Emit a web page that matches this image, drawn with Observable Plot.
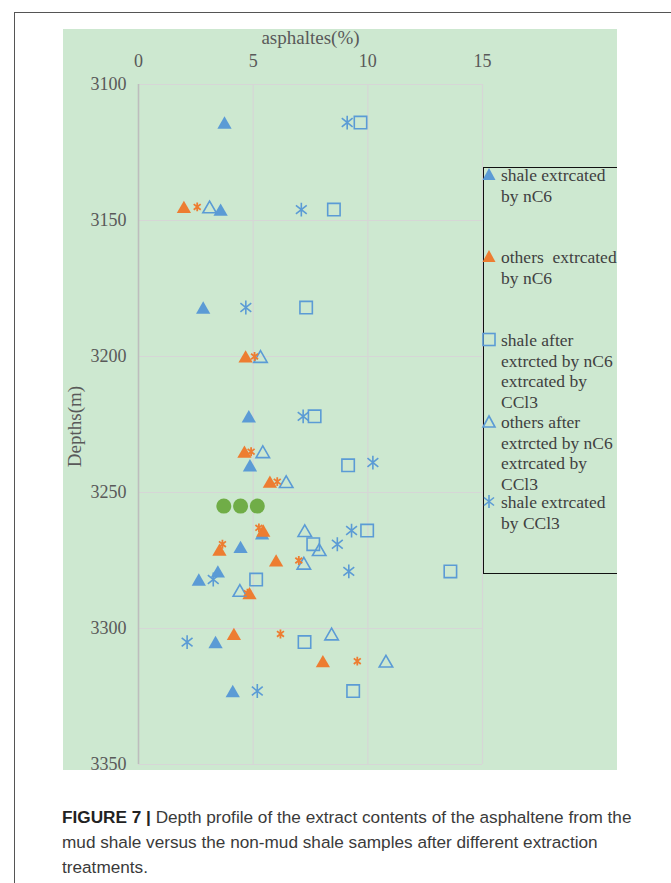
<!DOCTYPE html>
<html>
<head>
<meta charset="utf-8">
<script src="https://cdn.jsdelivr.net/npm/d3@7"></script>
<script src="https://cdn.jsdelivr.net/npm/@observablehq/plot@0.6"></script>
<style>
  html, body { margin: 0; padding: 0; background: #fff; width: 671px; height: 883px; overflow: hidden; }
  #page { position: relative; width: 671px; height: 883px; }
  #border { position: absolute; left: 14px; top: 12px; right: -2px; bottom: -2px; border-top: 1.5px solid #555; border-left: 1.5px solid #555; }
  #chart { position: absolute; left: 63px; top: 29px; }
  #legendBox { position: absolute; left: 483px; top: 167px; width: 134px; height: 407px; border: 1.5px solid #111; border-right: none; box-sizing: border-box; }
  .entry { position: absolute; left: 483px; font-family: "Liberation Serif", serif; font-size: 17.5px; line-height: 20.5px; color: #404040; white-space: pre; }
  .entry svg { position: absolute; left: -1px; top: 2px; overflow: visible; }
  .entry span { position: absolute; left: 18px; top: 0; }
  #caption { position: absolute; left: 62px; top: 805px; width: 600px; font-family: "Liberation Sans", Arial, sans-serif; font-size: 17.2px; line-height: 25px; color: #3a3a3a; }
  #caption div { white-space: nowrap; height: 25px; }
  #caption b { font-weight: bold; color: #222; }
</style>
</head>
<body>
<div id="page">
  <div id="border"></div>
  <div id="chart"></div>
  <div id="legendBox"></div>
  <div id="legend"></div>
  <div id="caption">
    <div><b>FIGURE 7 |</b><span> Depth profile of the extract contents of the asphaltene from the</span></div>
    <div>mud shale versus the non-mud shale samples after different extraction</div>
    <div>treatments.</div>
  </div>
</div>
<script>
// ---- data ----
const shaleNC6Depth = [3114, 3146, 3182, 3222, 3240, 3265, 3270, 3279, 3282, 3305, 3323];
const shaleNC6Value = [3.75, 3.58, 2.82, 4.81, 4.86, 5.39, 4.45, 3.46, 2.63, 3.36, 4.11];

const othersNC6Depth = [3145, 3200, 3235, 3246, 3264, 3271, 3275, 3287, 3302, 3312];
const othersNC6Value = [1.98, 4.67, 4.62, 5.73, 5.44, 3.53, 6.00, 4.84, 4.16, 8.04];

const shaleAfterDepth = [3114, 3146, 3182, 3222, 3240, 3264, 3269, 3279, 3282, 3305, 3323];
const shaleAfterValue = [9.68, 8.52, 7.31, 7.68, 9.14, 9.97, 7.62, 13.6, 5.13, 7.24, 9.36];

const othersAfterDepth = [3145, 3200, 3235, 3246, 3264, 3271, 3276, 3286, 3302, 3312];
const othersAfterValue = [3.10, 5.32, 5.42, 6.44, 7.25, 7.88, 7.21, 4.42, 8.42, 10.79];

const shaleCCl3Depth = [3114, 3146, 3182, 3222, 3239, 3264, 3269, 3279, 3282, 3305, 3323];
const shaleCCl3Value = [9.10, 7.10, 4.68, 7.18, 10.22, 9.29, 8.67, 9.17, 3.26, 2.12, 5.18];

const othersCCl3Depth = [3145, 3200, 3235, 3246, 3263, 3269, 3275, 3287, 3302, 3312];
const othersCCl3Value = [2.56, 5.06, 4.91, 6.05, 5.25, 3.66, 6.99, 4.75, 6.19, 9.54];

const extraDepth = [3255, 3255, 3255];
const extraValue = [3.72, 4.45, 5.18];

const xTicks = [0, 5, 10, 15];
const yTicks = [3100, 3150, 3200, 3250, 3300, 3350];

const legendItems = [
  {lines: ["shale extrcated", "by nC6"], sym: "triangleFilledBlue", top: 165},
  {lines: ["others  extrcated", "by nC6"], sym: "triangleFilledOrange", top: 247},
  {lines: ["shale after", "extrcted by nC6", "extrcated by", "CCl3"], sym: "square", top: 330},
  {lines: ["others after", "extrcted by nC6", "extrcated by", "CCl3"], sym: "triangleOpen", top: 412},
  {lines: ["shale extrcated", "by CCl3"], sym: "asterisk", top: 492}
];

const BLUE = "#5b9bd5", ORANGE = "#ed7d31", GREEN = "#70ad47";

// Excel-like star marker: vertical bar plus an X
const excelStar = {
  draw(context, size) {
    const r = Math.sqrt(size) * 0.56;
    const d = r * 0.78;
    context.moveTo(0, -r); context.lineTo(0, r);
    context.moveTo(-d, -d * 0.8); context.lineTo(d, d * 0.8);
    context.moveTo(-d, d * 0.8); context.lineTo(d, -d * 0.8);
  }
};

const rows = (d, v) => d.map((depth, i) => ({depth, value: v[i]}));

const chart = Plot.plot({
  width: 554,
  height: 741,
  marginLeft: 75,
  marginRight: 135,
  marginTop: 55,
  marginBottom: 6,
  style: {background: "#cde8d0", fontFamily: "Liberation Serif, serif", fontSize: "18px", color: "#595959", overflow: "visible"},
  x: {domain: [0, 15]},
  y: {domain: [3100, 3350], reverse: true},
  marks: [
    Plot.gridX(xTicks.slice(1), {stroke: "#d6d6d6", strokeOpacity: 1, strokeWidth: 1.2}),
    Plot.gridY(yTicks, {stroke: "#d6d6d6", strokeOpacity: 1, strokeWidth: 1.2}),
    Plot.ruleX([0], {stroke: "#bdbdbd", strokeWidth: 1.6}),
    Plot.axisX({anchor: "top", ticks: xTicks, tickSize: 0, tickPadding: 18, label: null, fontSize: 18}),
    Plot.axisY({anchor: "left", ticks: yTicks, tickFormat: d => String(d), tickSize: 0, tickPadding: 12, label: null, fontSize: 18}),
    Plot.text(["asphaltes(%)"], {frameAnchor: "top", lineAnchor: "middle", dy: -47, fontSize: 19, fill: "#595959"}),
    Plot.text(["Depths(m)"], {frameAnchor: "left", textAnchor: "middle", lineAnchor: "middle", dx: -64, dy: 2, rotate: -90, fontSize: 19, fill: "#595959"}),
    Plot.dot(rows(shaleNC6Depth, shaleNC6Value), {x: "value", y: "depth", symbol: "triangle", r: 5.3, fill: BLUE, dy: 2}),
    Plot.dot(rows(othersNC6Depth, othersNC6Value), {x: "value", y: "depth", symbol: "triangle", r: 5.3, fill: ORANGE, dy: 2}),
    Plot.dot(rows(shaleAfterDepth, shaleAfterValue), {x: "value", y: "depth", symbol: "square", r: 7.0, fill: "none", stroke: BLUE, strokeWidth: 1.6}),
    Plot.dot(rows(othersAfterDepth, othersAfterValue), {x: "value", y: "depth", symbol: "triangle", r: 5.0, fill: "none", stroke: BLUE, strokeWidth: 1.6, dy: 2}),
    Plot.dot(rows(shaleCCl3Depth, shaleCCl3Value), {x: "value", y: "depth", symbol: excelStar, r: 7, stroke: BLUE, strokeWidth: 1.6}),
    Plot.dot(rows(othersCCl3Depth, othersCCl3Value), {x: "value", y: "depth", symbol: excelStar, r: 4.5, stroke: ORANGE, strokeWidth: 1.8}),
    Plot.dot(rows(extraDepth, extraValue), {x: "value", y: "depth", symbol: "circle", r: 7.5, fill: GREEN})
  ]
});
document.getElementById("chart").appendChild(chart);

// legend (HTML overlay)
const symSvg = {
  triangleFilledBlue: `<polygon points="7,1 13.5,13 0.5,13" fill="${BLUE}"/>`,
  triangleFilledOrange: `<polygon points="7,1 13.5,13 0.5,13" fill="${ORANGE}"/>`,
  square: `<rect x="1" y="1.5" width="12" height="12" fill="none" stroke="${BLUE}" stroke-width="1.6"/>`,
  triangleOpen: `<polygon points="7,2 13,13 1,13" fill="none" stroke="${BLUE}" stroke-width="1.6"/>`,
  asterisk: `<g stroke="${BLUE}" stroke-width="1.6"><line x1="7" y1="1" x2="7" y2="14"/><line x1="2" y1="3.5" x2="12" y2="11.5"/><line x1="2" y1="11.5" x2="12" y2="3.5"/></g>`
};
const legendEl = document.getElementById("legend");
legendItems.forEach(item => {
  const div = document.createElement("div");
  div.className = "entry";
  div.style.top = item.top + "px";
  div.innerHTML = `<svg width="14" height="15">${symSvg[item.sym]}</svg><span>${item.lines.join("\n")}</span>`;
  legendEl.appendChild(div);
});
</script>
</body>
</html>
